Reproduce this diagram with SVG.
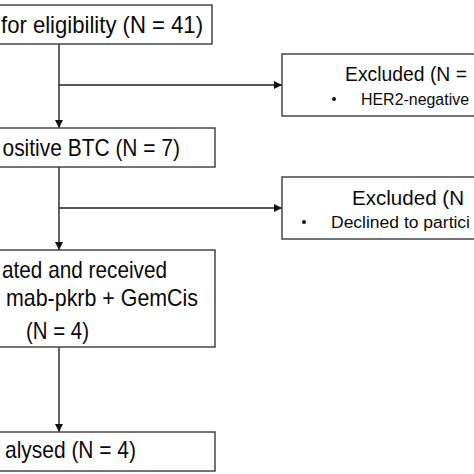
<svg xmlns="http://www.w3.org/2000/svg" width="474" height="474" viewBox="0 0 474 474">
<defs>
<style>
.box{fill:#fff;stroke:#3a3a3a;stroke-width:1.4}
.ln{fill:none;stroke:#222;stroke-width:1.4}
.t{font-family:"Liberation Sans",Arial,sans-serif;fill:#0a0a0a}
.m{font-size:24px}
.x{font-size:21px}
.b{font-size:16px}
</style>
<marker id="ah" viewBox="0 0 10 10" refX="10" refY="5" markerWidth="8" markerHeight="8" markerUnits="userSpaceOnUse" orient="auto">
<path d="M0,0 L10,5 L0,10 z" fill="#111"/>
</marker>
</defs>
<rect width="474" height="474" fill="#fff"/>
<g id="connectors">
<line class="ln" x1="59" y1="44" x2="59" y2="128" marker-end="url(#ah)"/>
<line class="ln" x1="59" y1="85" x2="282" y2="85" marker-end="url(#ah)"/>
<line class="ln" x1="59" y1="167" x2="59" y2="250" marker-end="url(#ah)"/>
<line class="ln" x1="59" y1="208" x2="282" y2="208" marker-end="url(#ah)"/>
<line class="ln" x1="59" y1="347" x2="59" y2="432" marker-end="url(#ah)"/>
</g>
<g id="screened">
<rect class="box" x="-100" y="5" width="312" height="39"/>
<text class="t m" x="1" y="33" textLength="202" lengthAdjust="spacingAndGlyphs">for eligibility (N = 41)</text>
</g>
<g id="excluded1">
<rect class="box" x="282" y="54" width="220" height="62"/>
<text class="t" x="345" y="81" font-size="20" textLength="122" lengthAdjust="spacingAndGlyphs">Excluded (N =</text>
<circle cx="334" cy="99" r="2" fill="#111"/>
<text class="t b" x="361" y="105" textLength="108" lengthAdjust="spacingAndGlyphs">HER2-negative</text>
</g>
<g id="her2pos">
<rect class="box" x="-100" y="128" width="315" height="39"/>
<text class="t m" x="2.5" y="156" textLength="177.5" lengthAdjust="spacingAndGlyphs">ositive BTC (N = 7)</text>
</g>
<g id="excluded2">
<rect class="box" x="282" y="177" width="220" height="62"/>
<text class="t x" x="352" y="205" textLength="112" lengthAdjust="spacingAndGlyphs">Excluded (N</text>
<circle cx="304" cy="222" r="2" fill="#111"/>
<text class="t b" x="331" y="228" textLength="139" lengthAdjust="spacingAndGlyphs">Declined to partici</text>
</g>
<g id="allocated">
<rect class="box" x="-100" y="250" width="315" height="97"/>
<text class="t m" x="2" y="278" textLength="165" lengthAdjust="spacingAndGlyphs">ated and received</text>
<text class="t m" x="6" y="306" textLength="192" lengthAdjust="spacingAndGlyphs">mab-pkrb + GemCis</text>
<text class="t m" x="26" y="339" textLength="63" lengthAdjust="spacingAndGlyphs">(N = 4)</text>
</g>
<g id="analysed">
<rect class="box" x="-100" y="432" width="315" height="39"/>
<text class="t m" x="5" y="458" textLength="131" lengthAdjust="spacingAndGlyphs">alysed (N = 4)</text>
</g>
</svg>
